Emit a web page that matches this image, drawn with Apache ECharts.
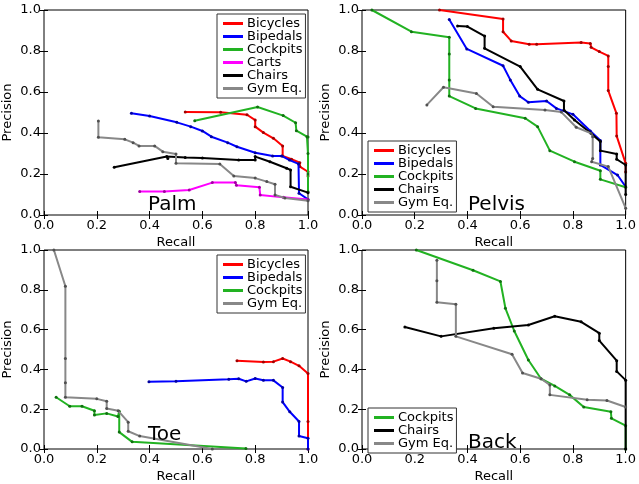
<!DOCTYPE html>
<html><head><meta charset="utf-8">
<script src="https://cdn.jsdelivr.net/npm/echarts@6/dist/echarts.min.js"></script>
<style>html,body{margin:0;padding:0;background:#fff}#c{width:639px;height:484px}</style>
</head><body><div id="c"></div>
<script>
// ---- data (recall, precision) ----
const palmBicycles=[[0.535,0.502],[0.669,0.501],[0.769,0.489],[0.8,0.463],[0.8,0.431],[0.831,0.402],[0.869,0.374],[0.904,0.337],[0.904,0.288],[0.9375,0.272],[0.969,0.255],[0.969,0.236],[1.0,0.211],[1.0,0.19]];
const palmBipedals=[[0.331,0.496],[0.4,0.483],[0.503,0.452],[0.556,0.431],[0.6,0.41],[0.634,0.382],[0.696,0.353],[0.731,0.333],[0.8,0.304],[0.866,0.288],[0.9,0.288],[0.93,0.268],[0.964,0.249],[0.966,0.106],[1.0,0.076]];
const palmCockpits=[[0.571,0.46],[0.809,0.527],[0.906,0.485],[0.953,0.45],[0.956,0.411],[0.996,0.382],[1.0,0.38],[1.0,0.3],[1.0,0.2],[1.0,0.114]];
const palmCarts=[[0.3625,0.115],[0.456,0.115],[0.55,0.122],[0.6375,0.158],[0.725,0.158],[0.729,0.145],[0.816,0.135],[0.819,0.098],[0.906,0.086],[1.0,0.076]];
const palmChairs=[[0.266,0.233],[0.465,0.285],[0.469,0.276],[0.535,0.28],[0.6,0.278],[0.7375,0.268],[0.8,0.268],[0.8,0.285],[0.856,0.26],[0.919,0.228],[0.934,0.22],[0.934,0.138],[1.0,0.109]];
const palmGym=[[0.206,0.459],[0.206,0.379],[0.306,0.369],[0.3375,0.353],[0.36,0.337],[0.419,0.337],[0.45,0.309],[0.5,0.298],[0.5,0.252],[0.666,0.249],[0.719,0.19],[0.8,0.18],[0.844,0.163],[0.875,0.15],[0.875,0.098],[0.9125,0.083],[1.0,0.07]];

const pelvisBicycles=[[0.294,1.0],[0.535,0.956],[0.535,0.894],[0.566,0.849],[0.634,0.833],[0.6625,0.833],[0.831,0.841],[0.866,0.837],[0.869,0.818],[0.9,0.797],[0.934,0.776],[0.934,0.724],[0.934,0.607],[0.965,0.496],[0.966,0.385],[1.0,0.252],[1.0,0.21]];
const pelvisBipedals=[[0.331,0.954],[0.3975,0.81],[0.535,0.728],[0.5625,0.659],[0.598,0.58],[0.631,0.55],[0.7,0.556],[0.7375,0.52],[0.8,0.491],[0.866,0.41],[0.904,0.363],[0.904,0.244],[0.969,0.195],[1.0,0.138]];
const pelvisCockpits=[[0.0375,1.0],[0.1875,0.894],[0.331,0.867],[0.331,0.785],[0.331,0.659],[0.331,0.58],[0.431,0.52],[0.619,0.472],[0.666,0.431],[0.7125,0.314],[0.806,0.26],[0.904,0.216],[0.904,0.174],[1.0,0.135]];
const pelvisChairs=[[0.3625,0.922],[0.4,0.919],[0.465,0.873],[0.465,0.813],[0.6,0.724],[0.666,0.613],[0.766,0.556],[0.766,0.512],[0.806,0.463],[0.869,0.398],[0.904,0.358],[0.904,0.314],[0.966,0.298],[0.966,0.272],[1.0,0.244],[1.0,0.1]];
const pelvisGym=[[0.246,0.537],[0.309,0.623],[0.434,0.593],[0.4975,0.528],[0.694,0.512],[0.756,0.502],[0.8125,0.428],[0.869,0.398],[0.875,0.382],[0.875,0.276],[0.871,0.26],[0.934,0.236],[1.0,0.033]];

const toeBicycles=[[0.731,0.444],[0.831,0.437],[0.869,0.439],[0.904,0.455],[0.934,0.439],[0.966,0.418],[1.0,0.379],[1.0,0.138],[1.0,0.0]];
const toeBipedals=[[0.3975,0.338],[0.5,0.34],[0.7,0.35],[0.7375,0.353],[0.766,0.34],[0.8,0.354],[0.831,0.346],[0.869,0.345],[0.904,0.309],[0.904,0.236],[0.931,0.187],[0.966,0.138],[0.966,0.065],[1.0,0.054],[1.0,0.0]];
const toeCockpits=[[0.046,0.26],[0.0975,0.215],[0.144,0.215],[0.191,0.192],[0.191,0.171],[0.2375,0.179],[0.28,0.163],[0.285,0.19],[0.285,0.085],[0.334,0.036],[0.765,0.003]];
const toeGym=[[0.0375,1.0],[0.081,0.818],[0.081,0.455],[0.081,0.333],[0.081,0.26],[0.2,0.252],[0.2375,0.24],[0.2375,0.203],[0.281,0.192],[0.319,0.135],[0.319,0.089],[0.3625,0.065],[0.6375,0.0]];

const backCockpits=[[0.206,1.0],[0.421,0.898],[0.525,0.842],[0.544,0.707],[0.5775,0.593],[0.631,0.447],[0.679,0.353],[0.731,0.317],[0.7875,0.272],[0.841,0.211],[0.944,0.187],[0.946,0.154],[1.0,0.117],[1.0,0.0]];
const backChairs=[[0.1625,0.613],[0.3,0.566],[0.5,0.607],[0.631,0.623],[0.731,0.667],[0.831,0.639],[0.9,0.582],[0.9,0.545],[0.966,0.444],[0.966,0.39],[1.0,0.346],[1.0,0.0]];
const backGym=[[0.284,0.948],[0.284,0.846],[0.284,0.737],[0.356,0.727],[0.356,0.566],[0.569,0.476],[0.609,0.382],[0.679,0.353],[0.7125,0.322],[0.7125,0.272],[0.854,0.247],[0.929,0.244],[1.0,0.211]];

const panelNames=['Palm','Pelvis','Toe','Back'];
const tickValues=['0.0','0.2','0.4','0.6','0.8','1.0'];

const colors={'Bicycles':'#ff0000','Bipedals':'#0000ff','Cockpits':'#22b222','Carts':'#ff00ff','Chairs':'#000000','Gym Eq.':'#888888'};
const dots={'Bicycles':'#a00000','Bipedals':'#0000a0','Cockpits':'#107010','Carts':'#a000a0','Chairs':'#000000','Gym Eq.':'#505050'};

const panels=[
  {names:['Bicycles','Bipedals','Cockpits','Carts','Chairs','Gym Eq.'],data:[palmBicycles,palmBipedals,palmCockpits,palmCarts,palmChairs,palmGym]},
  {names:['Bicycles','Bipedals','Cockpits','Chairs','Gym Eq.'],data:[pelvisBicycles,pelvisBipedals,pelvisCockpits,pelvisChairs,pelvisGym]},
  {names:['Bicycles','Bipedals','Cockpits','Gym Eq.'],data:[toeBicycles,toeBipedals,toeCockpits,toeGym]},
  {names:['Cockpits','Chairs','Gym Eq.'],data:[backCockpits,backChairs,backGym]}
];

const FONT='DejaVu Sans';
const grids=[
  {left:42,top:10,width:266,height:205},
  {left:362,top:10,width:266,height:205},
  {left:42,top:250,width:266,height:205},
  {left:362,top:250,width:266,height:205}
];
const legendPos=[{left:217,top:14},{left:368,top:141},{left:217,top:255},{left:368,top:408}];
const titlePos=[{left:148,top:195},{left:468,top:195},{left:148,top:425},{left:468,top:433}];

const fmt=v=>tickValues[Math.round(v*5)];
const xAxes=[],yAxes=[],series=[],legends=[],titles=[];
grids.forEach((g,i)=>{
  xAxes.push({gridIndex:i,type:'value',min:0,max:1,interval:0.2,name:'Recall',nameLocation:'middle',nameGap:21,
    nameTextStyle:{fontFamily:FONT,fontSize:13,color:'#000'},
    axisLine:{show:false},axisTick:{inside:true,length:4,lineStyle:{color:'#000'}},splitLine:{show:false},
    axisLabel:{fontFamily:FONT,fontSize:13,color:'#000',margin:4,formatter:fmt,showMinLabel:true,showMaxLabel:true}});
  yAxes.push({gridIndex:i,type:'value',min:0,max:1,interval:0.2,name:'Precision',nameLocation:'middle',nameGap:30,
    nameTextStyle:{fontFamily:FONT,fontSize:13,color:'#000'},
    axisLine:{show:false},axisTick:{inside:true,length:4,lineStyle:{color:'#000'}},splitLine:{show:false},
    axisLabel:{fontFamily:FONT,fontSize:13,color:'#000',margin:3,formatter:fmt,showMinLabel:true,showMaxLabel:true}});
});
grids.forEach((g,i)=>{
  xAxes.push({gridIndex:i,type:'value',min:0,max:1,interval:0.2,position:'top',axisLine:{show:false},
    axisTick:{inside:true,length:4,lineStyle:{color:'#000'}},axisLabel:{show:false},splitLine:{show:false}});
  yAxes.push({gridIndex:i,type:'value',min:0,max:1,interval:0.2,position:'right',axisLine:{show:false},
    axisTick:{inside:true,length:4,lineStyle:{color:'#000'}},axisLabel:{show:false},splitLine:{show:false}});
});
panels.forEach((p,i)=>{
  p.names.forEach((n,k)=>{
    series.push({type:'line',name:n,xAxisIndex:i,yAxisIndex:i,data:p.data[k],
      lineStyle:{color:colors[n],width:2},itemStyle:{color:dots[n]},
      symbol:'circle',symbolSize:3,showSymbol:true,animation:false,z:2+k});
  });
  legends.push({orient:'vertical',left:legendPos[i].left,top:legendPos[i].top,
    data:p.names.map(n=>({name:n,itemStyle:{color:colors[n]}})),
    icon:'rect',itemWidth:20,itemHeight:3,itemGap:0,padding:[3,3,3,6],
    backgroundColor:'#fff',borderColor:'#333',borderWidth:1,borderRadius:0,selectedMode:false,
    textStyle:{fontFamily:FONT,fontSize:13,color:'#000',lineHeight:13,padding:[0,0,0,-1]}});
  titles.push({text:panelNames[i],left:titlePos[i].left,top:titlePos[i].top,padding:0,
    textStyle:{fontFamily:FONT,fontSize:20,fontWeight:'normal',color:'#000'}});
});
const chart=echarts.init(document.getElementById('c'),null,{renderer:'canvas'});
chart.setOption({
  animation:false,
  title:titles,
  grid:grids.map(g=>Object.assign({show:true,borderColor:'#000',borderWidth:1,backgroundColor:'transparent'},g)),
  xAxis:xAxes,yAxis:yAxes,legend:legends,
  series:series
});
</script></body></html>
